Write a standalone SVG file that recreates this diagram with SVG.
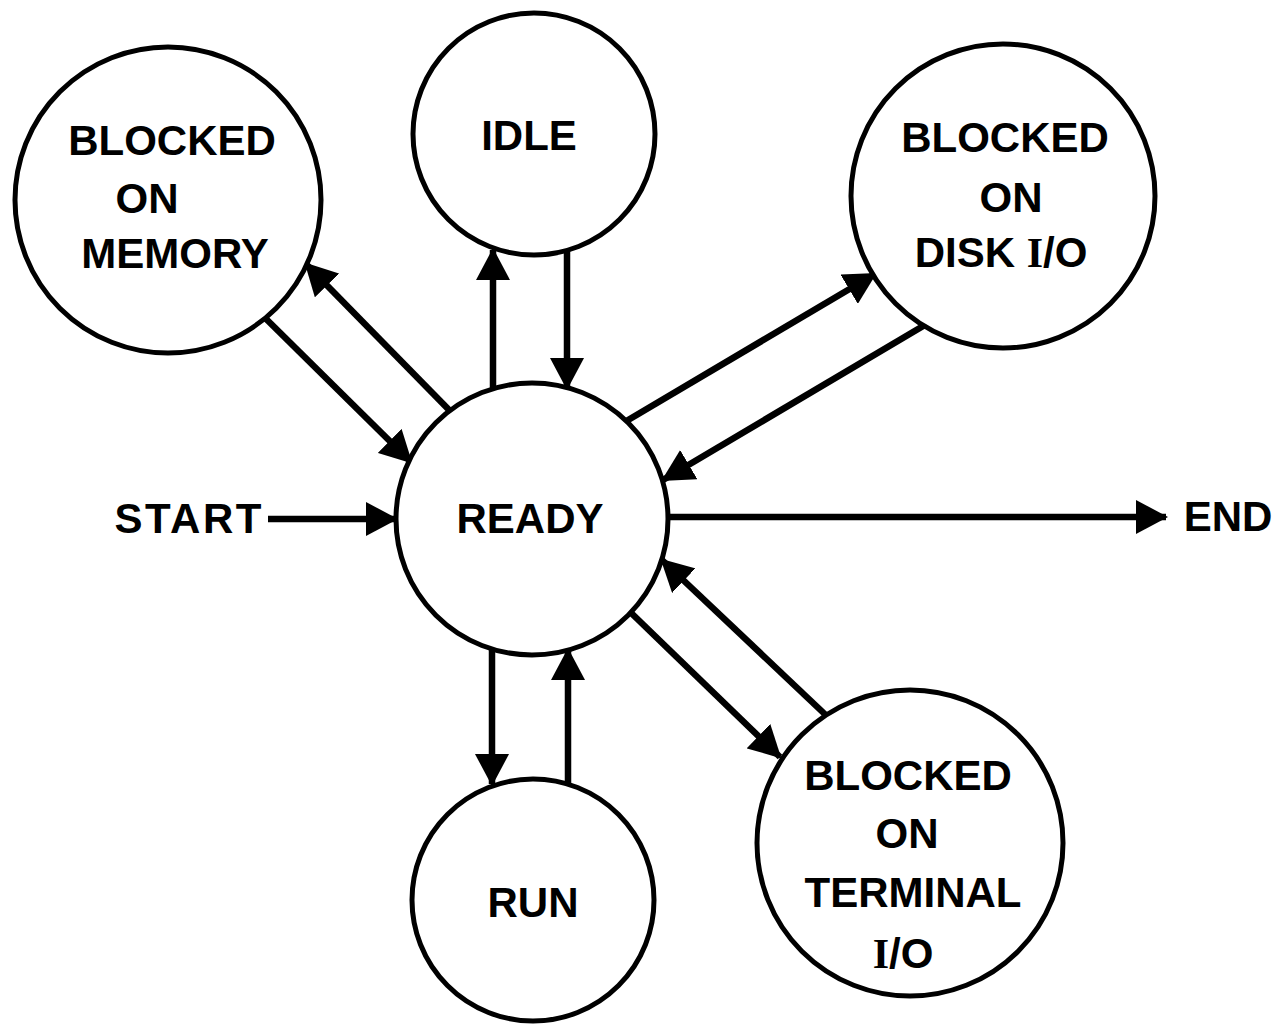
<svg xmlns="http://www.w3.org/2000/svg" width="1280" height="1025" viewBox="0 0 1280 1025">
<defs>
<style>
.edge{stroke:#000;stroke-width:6.5;fill:none;marker-end:url(#ah)}
.node{fill:#fff;stroke:#000;stroke-width:5}
.lbl{font-family:"Liberation Sans",Arial,sans-serif;font-weight:bold;font-size:42px;fill:#000;text-anchor:middle}
.ser{font-family:"Liberation Serif","Times New Roman",serif;font-weight:bold}
</style>
<marker id="ah" markerUnits="userSpaceOnUse" viewBox="0 0 32 34" refX="30" refY="17" markerWidth="32" markerHeight="34" orient="auto">
<path d="M0,0 L32,17 L0,34 z" fill="#000"/>
</marker>
</defs>
<rect width="1280" height="1025" fill="#fff"/>
<g id="connectors">
<line class="edge" x1="455" y1="416" x2="306" y2="264"/>
<line class="edge" x1="256" y1="309" x2="411" y2="462"/>
<line class="edge" x1="493" y1="400" x2="493" y2="250"/>
<line class="edge" x1="567" y1="240" x2="567" y2="388"/>
<line class="edge" x1="618" y1="426" x2="875" y2="274"/>
<line class="edge" x1="935" y1="319" x2="663" y2="480"/>
<line class="edge" x1="268" y1="519" x2="396" y2="519"/>
<line class="edge" x1="660" y1="517" x2="1166" y2="517"/>
<line class="edge" x1="492" y1="640" x2="492" y2="784"/>
<line class="edge" x1="568" y1="795" x2="568" y2="650"/>
<line class="edge" x1="625" y1="607" x2="780" y2="757"/>
<line class="edge" x1="830" y1="719" x2="662" y2="560"/>
</g>
<g id="node-memory">
<circle class="node" cx="168" cy="200" r="153"/>
<text class="lbl" x="172" y="155">BLOCKED</text>
<text class="lbl" x="147" y="213">ON</text>
<text class="lbl" x="175" y="268">MEMORY</text>
</g>
<g id="node-idle">
<circle class="node" cx="534" cy="134" r="121"/>
<text class="lbl" x="529" y="150">IDLE</text>
</g>
<g id="node-disk">
<circle class="node" cx="1003" cy="196" r="152"/>
<text class="lbl" x="1005" y="152">BLOCKED</text>
<text class="lbl" x="1011" y="212">ON</text>
<text class="lbl" x="1001" y="267">DISK <tspan class="ser">I</tspan>/O</text>
</g>
<g id="node-ready">
<circle class="node" cx="532" cy="519" r="136"/>
<text class="lbl" x="530" y="533">READY</text>
</g>
<g id="node-run">
<circle class="node" cx="533" cy="900" r="121"/>
<text class="lbl" x="533" y="917">RUN</text>
</g>
<g id="node-terminal">
<circle class="node" cx="910" cy="843" r="153"/>
<text class="lbl" x="908" y="790">BLOCKED</text>
<text class="lbl" x="907" y="848">ON</text>
<text class="lbl" x="913" y="907">TERMINAL</text>
<text class="lbl" x="903" y="968"><tspan class="ser">I</tspan>/O</text>
</g>
<g id="node-start">
<text class="lbl" x="188" y="533" textLength="147">START</text>
</g>
<g id="node-end">
<text class="lbl" x="1228" y="531">END</text>
</g>
</svg>
